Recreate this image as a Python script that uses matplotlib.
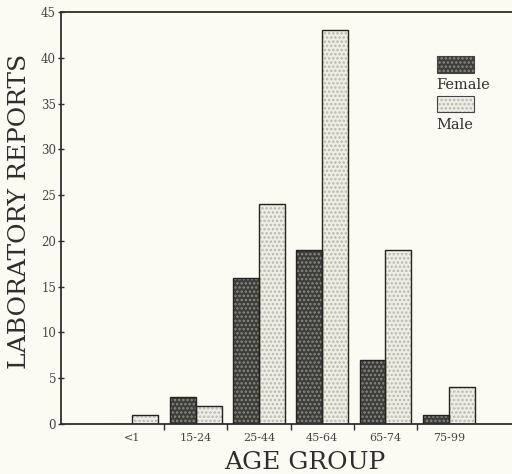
import numpy as np
import matplotlib
matplotlib.use('Agg')
import matplotlib.pyplot as plt
from matplotlib.patches import Rectangle

groups = ['<1', '15-24', '25-44', '45-64', '65-74', '75-99']
female = [0, 3, 16, 19, 7, 1]
male = [1, 2, 24, 43, 19, 4]

plt.rcParams['font.family'] = ['DejaVu Serif', 'Liberation Serif']
plt.rcParams['hatch.linewidth'] = 1.2

bg = '#fbfbf3'
ink = '#2e2e2e'
dark = '#3c3c3a'
light = '#eeeee6'

fig = plt.figure(figsize=(5.12, 4.74), dpi=100, facecolor=bg)
ax = fig.add_axes([0.119, 0.1055, 0.881, 0.869], facecolor=bg)

x = np.arange(len(groups))
w = 0.41

# dotted fill first, then outline on top
ax.bar(x - w / 2, female, w, color=dark, edgecolor='#8a8a82', hatch='....', linewidth=0)
ax.bar(x + w / 2, male, w, color=light, edgecolor='#b8b8ae', hatch='....', linewidth=0)
ax.bar(x - w / 2, female, w, fill=False, edgecolor='#222222', linewidth=1.0)
ax.bar(x + w / 2, male, w, fill=False, edgecolor='#222222', linewidth=1.0)

ax.set_xlim(-1.13, 6.0)
ax.set_ylim(0, 45)

ax.set_yticks(np.arange(0, 46, 5))
ax.set_xticks(x[:-1] + 0.5)
ax.set_xticklabels([])
for xi, g in zip(x, groups):
    ax.text(xi, -1.0, g, ha='center', va='top', fontsize=8, color='#444444')

ax.tick_params(axis='y', direction='inout', length=5, width=1, labelsize=8.5,
               colors=ink, pad=1)
ax.tick_params(axis='x', direction='out', length=4, width=1, colors=ink)
for t in ax.get_yticklabels():
    t.set_color('#444444')

for s in ['left', 'bottom', 'top']:
    ax.spines[s].set_color(ink)
    ax.spines[s].set_linewidth(1.3)
ax.spines['right'].set_visible(False)

ax.set_ylabel('LABORATORY REPORTS', fontsize=18, color=ink)
ax.set_xlabel('AGE GROUP', fontsize=18, color=ink)
ax.yaxis.set_label_coords(-0.091, 0.515)
ax.yaxis.label.set_va('center')
ax.xaxis.set_label_coords(0.54, -0.093)
ax.xaxis.label.set_va('center')

# legend drawn by hand: patch with label underneath
for (yy, fc, hc, lab) in [(0.853, dark, '#8a8a82', 'Female'),
                          (0.757, light, '#b8b8ae', 'Male')]:
    ax.add_patch(Rectangle((0.833, yy), 0.083, 0.04, transform=ax.transAxes,
                           facecolor=fc, edgecolor=hc, hatch='....', linewidth=0))
    ax.add_patch(Rectangle((0.833, yy), 0.083, 0.04, transform=ax.transAxes,
                           fill=False, edgecolor='#444444', linewidth=0.8))
    ax.text(0.833, yy - 0.014, lab, transform=ax.transAxes, ha='left', va='top',
            fontsize=10.5, color=ink)

fig.savefig('out.png', dpi=100, facecolor=bg)
